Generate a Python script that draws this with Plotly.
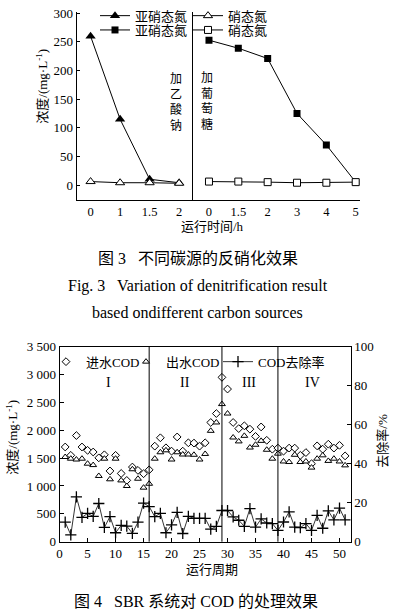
import plotly.graph_objects as go

W, H = 395, 616
def fx(p): return p / W
def fy(p): return 1 - p / H

FONT = "Liberation Serif, Noto Sans CJK SC, serif"
BLK = "black"

# ---- Fig. 3 data ----
left_time = ['0', '1', '1.5', '2']
acetate_nitrite = [260, 115, 10, 4]
acetate_nitrate = [6, 4, 4, 3]
right_time = ['0', '1.5', '2', '3', '4', '5']
glucose_nitrite = [253, 239, 221, 125, 70, 5]
glucose_nitrate = [6, 6, 5, 4, 4, 5]
top_yticks = [0, 50, 100, 150, 200, 250, 300]

# ---- Fig. 4 data ----
cycles = [1, 2, 3, 4, 5, 6, 7, 8, 9, 10, 11, 12, 13, 14, 15, 16,
          17, 18, 19, 20, 21, 22, 23, 24, 25, 26, 27, 28, 29,
          30, 31, 32, 33, 34, 35, 36, 37, 38, 39,
          40, 41, 42, 43, 44, 45, 46, 47, 48, 49, 50, 51]
influent_cod = [1700, 1550, 1905, 1700, 1640, 1610, 1505, 1560, 1270, 1550, 1225, 1100, 1340, 1280, 1220, 1290,
                1715, 1865, 1685, 1625, 1880, 1625, 1775, 1770, 1715, 1775, 2140, 2300, 2950,
                2740, 2140, 2030, 2080, 2020, 1890, 2060, 1820, 1660, 1680,
                1625, 1680, 1680, 1550, 1600, 1400, 1720, 1660, 1750, 1680, 1730, 1540]
effluent_cod = [1520, 1490, 1475, 1490, 1400, 1375, 1180, 1490, 1120, 1490, 1100, 1000, 1300, 1130, 970, 1040,
                1490, 1605, 1640, 1475, 1605, 1565, 1565, 1560, 1475, 1575, 1990, 2140, 2470,
                2300, 1870, 1800, 1900, 1690, 1740, 1810, 1650, 1490, 1580,
                1440, 1430, 1560, 1430, 1440, 1330, 1490, 1550, 1450, 1490, 1440, 1370]
removal_rate = [10, 3.5, 23, 12.5, 14.5, 13, 19.6, 7.3, 12.9, 4.6, 8.4, 8, 4.3, 10, 19.8, 18,
                12.9, 14.5, 4.6, 8.6, 15, 4.2, 13, 12, 12, 12, 6.4, 7.9, 16,
                16, 12.7, 11, 7.9, 17, 7.5, 11.7, 9.6, 9.3, 5.8,
                10.1, 15.3, 7.5, 7.2, 9.3, 5.8, 13.5, 6.9, 15.8, 11.2, 17.2, 11.2]
period_dividers = [16, 29, 39]
period_labels = ['I', 'II', 'III', 'IV']
period_label_x = [8.7, 22.4, 33.8, 45.2]
cod_ticks = [0, 500, 1000, 1500, 2000, 2500, 3000, 3500]
cod_ticktext = ['0', '500', '1 000', '1 500', '2 000', '2 500', '3 000', '3 500']
rate_ticks = [0, 20, 40, 60, 80, 100]
x4_ticks = [0, 5, 10, 15, 20, 25, 30, 35, 40, 45, 50]

fig = go.Figure()

def open_marker(sym, size):
    return dict(symbol=sym, size=size, color='white', line=dict(color=BLK, width=1))

fig.add_trace(go.Scatter(x=left_time, y=acetate_nitrite, xaxis='x', yaxis='y', mode='lines+markers',
                         name='亚硝态氮', legend='legend',
                         marker=dict(symbol='triangle-up', size=9, color=BLK),
                         line=dict(color=BLK, width=1)))
fig.add_trace(go.Scatter(x=left_time, y=acetate_nitrate, xaxis='x', yaxis='y', mode='lines+markers',
                         name='硝态氮', legend='legend3',
                         marker=open_marker('triangle-up', 8),
                         line=dict(color=BLK, width=1)))
fig.add_trace(go.Scatter(x=right_time, y=glucose_nitrite, xaxis='x2', yaxis='y2', mode='lines+markers',
                         name='亚硝态氮', legend='legend2',
                         marker=dict(symbol='square', size=7, color=BLK),
                         line=dict(color=BLK, width=1)))
fig.add_trace(go.Scatter(x=right_time, y=glucose_nitrate, xaxis='x2', yaxis='y2', mode='lines+markers',
                         name='硝态氮', legend='legend4',
                         marker=open_marker('square', 7),
                         line=dict(color=BLK, width=1)))

fig.add_trace(go.Scatter(x=cycles, y=influent_cod, xaxis='x3', yaxis='y3', mode='markers',
                         name='进水COD', legend='legend5', marker=open_marker('diamond', 6)))
fig.add_trace(go.Scatter(x=cycles, y=effluent_cod, xaxis='x3', yaxis='y3', mode='markers',
                         name='出水COD', legend='legend6', marker=open_marker('triangle-up', 6)))
fig.add_trace(go.Scatter(x=cycles, y=removal_rate, xaxis='x3', yaxis='y4', mode='lines+markers',
                         name='COD去除率', legend='legend7',
                         marker=dict(symbol='cross-thin', size=8, color=BLK, line=dict(color=BLK, width=1.3)),
                         line=dict(color=BLK, width=0.8)))

ax_common = dict(showgrid=False, zeroline=False, showline=True, linecolor=BLK, linewidth=1,
                 tickcolor=BLK, tickfont=dict(family=FONT, size=13, color=BLK), automargin=False)

top_dom = [fy(200), fy(11.7)]
bot_dom = [fy(541.7), fy(346.7)]

def leg(xp, yp, size=13):
    return dict(x=fx(xp), y=fy(yp), xanchor='left', yanchor='middle', bgcolor='rgba(0,0,0,0)',
                borderwidth=0, font=dict(family=FONT, size=size, color=BLK), itemwidth=30)

fig.update_layout(
    width=W, height=H, margin=dict(l=0, r=0, t=0, b=0),
    template='none', paper_bgcolor='white', plot_bgcolor='rgba(0,0,0,0)',
    font=dict(family=FONT, size=13, color=BLK),
    showlegend=True,
    xaxis=dict(ax_common, domain=[fx(76.7), fx(192.7)], anchor='y', type='category',
               categoryorder='array', categoryarray=left_time, range=[-0.47, 3.46], ticks='',
               tickfont=dict(family=FONT, size=12.5, color=BLK)),
    yaxis=dict(ax_common, domain=top_dom, anchor='x', range=[-26.2, 302.8], tickvals=top_yticks,
               ticks='inside', ticklen=3),
    xaxis2=dict(ax_common, domain=[fx(192.7), fx(360)], anchor='y2', type='category',
                categoryorder='array', categoryarray=right_time, range=[-0.555, 5.147], ticks='',
                tickfont=dict(family=FONT, size=12.5, color=BLK)),
    yaxis2=dict(ax_common, domain=top_dom, anchor='x2', range=[-26.2, 302.8], showticklabels=False, ticks=''),
    xaxis3=dict(ax_common, domain=[fx(59.6), fx(350.7)], anchor='y3', range=[0, 52], tickvals=x4_ticks,
                ticks='inside', ticklen=4, mirror=True),
    yaxis3=dict(ax_common, domain=bot_dom, anchor='x3', range=[0, 3500], tickvals=cod_ticks,
                ticktext=cod_ticktext, ticks='inside', ticklen=4),
    yaxis4=dict(ax_common, overlaying='y3', anchor='x3', side='right', range=[0, 100], tickvals=rate_ticks,
                ticks='inside', ticklen=4),
    legend=leg(95, 15.7),
    legend2=leg(95, 30),
    legend3=leg(188, 15.7),
    legend4=leg(188, 30),
    legend5=leg(46, 361.7),
    legend6=leg(126, 361.7),
    legend7=leg(218, 361.7),
)

for d in period_dividers:
    fig.add_shape(type='line', xref='x3', yref='y3 domain', x0=d, x1=d, y0=0, y1=1,
                  line=dict(color=BLK, width=1))

ann = []
def txt(text, xp, yp, size=13, angle=0, xanchor='center'):
    ann.append(dict(text=text, x=fx(xp), y=fy(yp), xref='paper', yref='paper', showarrow=False,
                    xanchor=xanchor, yanchor='middle', textangle=angle,
                    font=dict(family=FONT, size=size, color=BLK)))

for lbl, xv in zip(period_labels, period_label_x):
    ann.append(dict(text=lbl, x=xv, y=2866, xref='x3', yref='y3', showarrow=False,
                    font=dict(family=FONT, size=14, color=BLK)))

txt('加<br>乙<br>酸<br>钠', 175.7, 102, size=12)
txt('加<br>葡<br>萄<br>糖', 206.7, 101, size=12)

txt('浓度/(mg·L<sup>-1</sup>)', 41.7, 86, angle=-90)
txt('运行时间/h', 212.5, 226.5)
txt('图 3   不同碳源的反硝化效果', 197.5, 258.3, size=16)
txt('Fig. 3   Variation of denitrification result', 197.5, 285.7, size=16)
txt('based ondifferent carbon sources', 197.5, 312.7, size=16)

txt('浓度/(mg·L<sup>-1</sup>)', 11.7, 437, angle=-90)
txt('去除率/%', 381.7, 441, angle=-90)
txt('运行周期', 211.7, 569)
txt('图 4   SBR 系统对 COD 的处理效果', 196, 601.7, size=16)

fig.update_layout(annotations=ann)

fig.write_html("out.html", config={'displayModeBar': False},
               post_script="document.body.style.margin='0';document.body.style.overflow='hidden';")
